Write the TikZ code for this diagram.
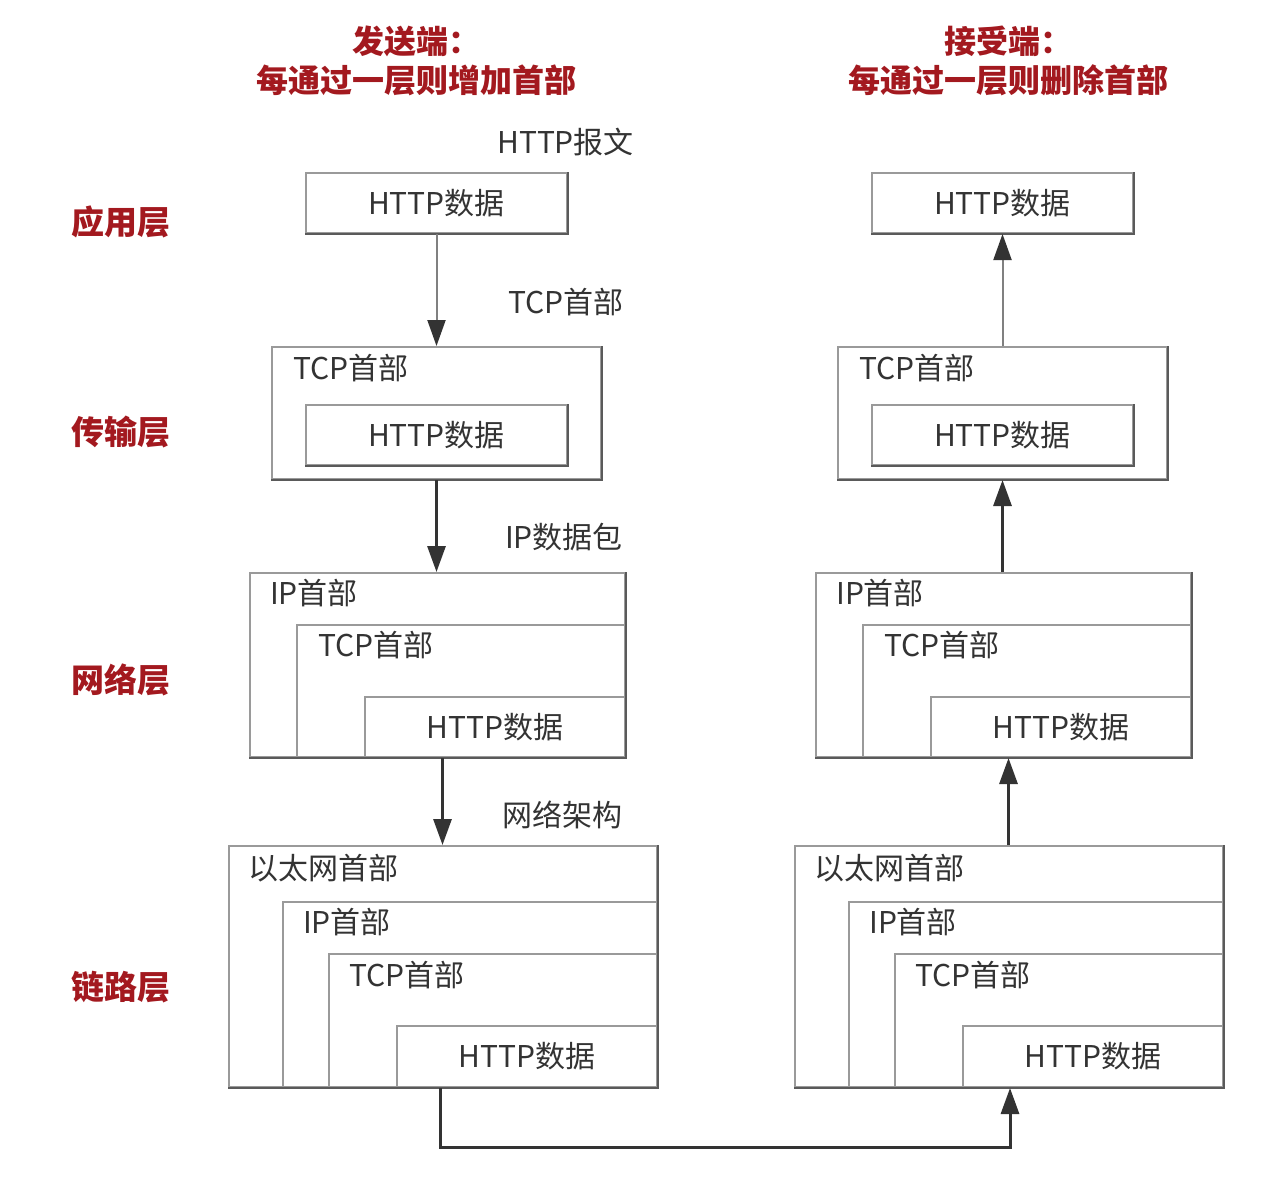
\documentclass[tikz,border=0pt]{standalone}
\usepackage{fontspec}
\setmainfont{Noto Sans CJK SC}
\usetikzlibrary{arrows.meta}
\definecolor{ttl}{HTML}{A3191F}
\definecolor{lgr}{HTML}{9A9A9A}
\definecolor{dgr}{HTML}{5A5A5A}
\definecolor{txt}{HTML}{333333}
\tikzset{
  box/.style={draw=lgr, line width=2pt, rectangle, inner sep=0pt, anchor=north west, text=txt, font=\fontsize{30}{34}\selectfont},
  hdr/.style={anchor=west, inner sep=0pt, text=txt, font=\fontsize{30}{34}\selectfont},
  ttlstyle/.style={text=ttl, font=\bfseries\fontsize{32}{39}\selectfont, align=center, inner sep=0pt},
  layer/.style={text=ttl, font=\bfseries\fontsize{33}{36}\selectfont, inner sep=0pt},
  thinarr/.style={draw=gray, line width=2pt, -{Triangle[length=26pt,width=18pt,color=txt,fill=txt]}},
  thickarr/.style={draw=txt, line width=3pt, -{Triangle[length=26pt,width=18pt]}},
}
\newcommand{\edgeshd}[1]{\draw[dgr, line width=2pt] (#1.north east) -- (#1.south east) -- (#1.south west);}
\begin{document}
\begin{tikzpicture}[x=1pt,y=-1pt]
\useasboundingbox (0,0) rectangle (1268,1186);
% titles
\node[ttlstyle] (tl) at (416,61) {发送端：\\每通过一层则增加首部};
\node[ttlstyle] (tr) at (1008,61) {接受端：\\每通过一层则删除首部};
% layer labels
\node[layer] (l1) at (121,222) {应用层};
\node[layer] (l2) at (121,432) {传输层};
\node[layer] (l3) at (121,680) {网络层};
\node[layer] (l4) at (121,987) {链路层};

\foreach \s/\dx in {L/0, R/566}{
  % application
  \node[box, minimum width=261pt, minimum height=60pt] (\s a) at (305+\dx,172) {HTTP数据};
  \edgeshd{\s a}
  % transport
  \node[box, minimum width=329pt, minimum height=132pt] (\s t) at (271+\dx,346) {};
  \edgeshd{\s t}
  \node[hdr] (\s th) at (293+\dx,368) {TCP首部};
  \node[box, minimum width=261pt, minimum height=60pt] (\s ti) at (305+\dx,404) {HTTP数据};
  \edgeshd{\s ti}
  % network
  \node[box, minimum width=375pt, minimum height=184pt] (\s n) at (249+\dx,572) {};
  \edgeshd{\s n}
  \node[hdr] (\s nh) at (270+\dx,593) {IP首部};
  \node[box, minimum width=328pt, minimum height=132pt] (\s nt) at (296+\dx,624) {};
  \edgeshd{\s nt}
  \node[hdr] (\s nth) at (318+\dx,645) {TCP首部};
  \node[box, minimum width=260pt, minimum height=60pt] (\s nd) at (364+\dx,696) {HTTP数据};
  \edgeshd{\s nd}
  % link
  \node[box, minimum width=428pt, minimum height=241pt] (\s k) at (228+\dx,845) {};
  \edgeshd{\s k}
  \node[hdr] (\s kh) at (248+\dx,868) {以太网首部};
  \node[box, minimum width=374pt, minimum height=185pt] (\s ki) at (282+\dx,901) {};
  \edgeshd{\s ki}
  \node[hdr] (\s kih) at (303+\dx,922) {IP首部};
  \node[box, minimum width=328pt, minimum height=133pt] (\s kt) at (328+\dx,953) {};
  \edgeshd{\s kt}
  \node[hdr] (\s kth) at (349+\dx,975) {TCP首部};
  \node[box, minimum width=260pt, minimum height=61pt] (\s kd) at (396+\dx,1025) {HTTP数据};
  \edgeshd{\s kd}
}
% sender annotations
\node[hdr] (m1) at (497,142) {HTTP报文};
\node[hdr] (m2) at (508,302) {TCP首部};
\node[hdr] (m3) at (505,537) {IP数据包};
\node[hdr] (m4) at (502,815) {网络架构};
% sender arrows
\draw[thinarr] (La.south) -- (Lt.north -| La.south);
\draw[thickarr] (Lt.south -| La.south) -- (Ln.north -| La.south);
\draw[thickarr] ([xshift=6pt]Ln.south -| La.south) -- ([xshift=6pt]Lk.north -| La.south);
% receiver arrows
\draw[thinarr] (Rt.north -| Ra.south) -- (Ra.south);
\draw[thickarr] (Rn.north -| Ra.south) -- (Rt.south -| Ra.south);
\draw[thickarr] ([xshift=6pt]Rk.north -| Ra.south) -- ([xshift=6pt]Rn.south -| Ra.south);
% bottom connection
\coordinate (b1) at (440,1147);
\coordinate (b2) at (1010,1147);
\draw[thickarr] (Lk.south -| b1) -- (b1) -- (b2) -- (Rk.south -| b2);
\end{tikzpicture}
\end{document}
